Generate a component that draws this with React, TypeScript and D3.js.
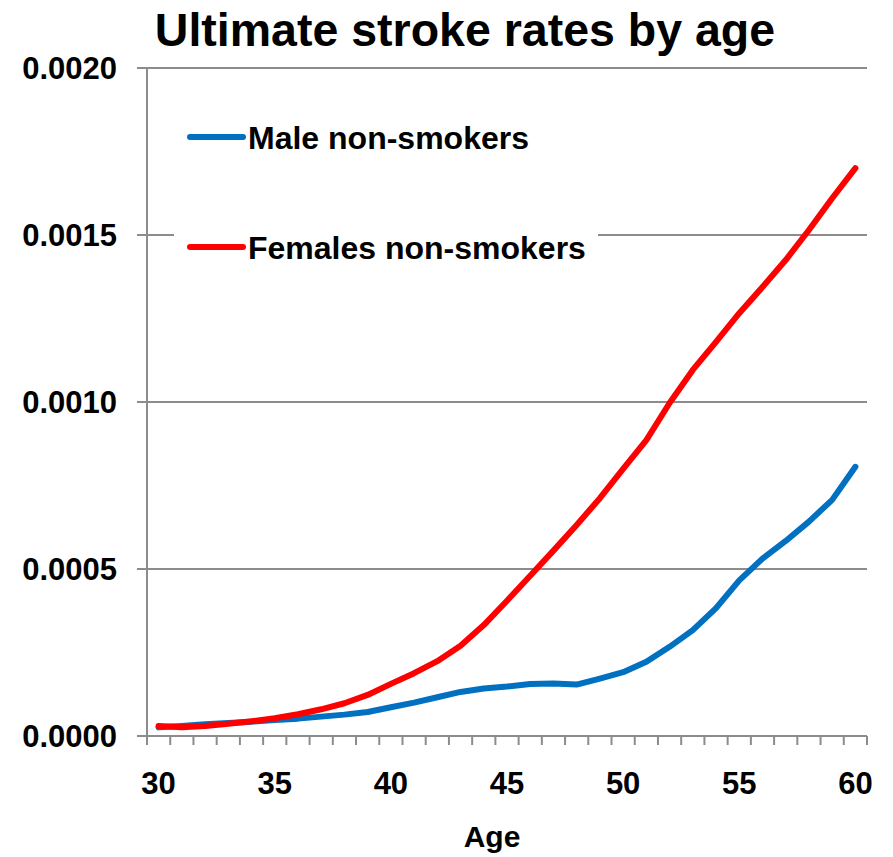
import React, { useEffect, useRef } from "react";
import * as d3 from "d3";

const ages = [30, 31, 32, 33, 34, 35, 36, 37, 38, 39, 40, 41, 42, 43, 44, 45, 46, 47, 48, 49, 50, 51, 52, 53, 54, 55, 56, 57, 58, 59, 60];
const maleNonSmokers = [0.000026, 0.00003, 0.000035, 0.000039, 0.000043, 0.000048, 0.000052, 0.000058, 0.000064, 0.000072, 0.000086, 0.0001, 0.000116, 0.000132, 0.000142, 0.000148, 0.000156, 0.000157, 0.000154, 0.000172, 0.000191, 0.000222, 0.000267, 0.000317, 0.000383, 0.000466, 0.000531, 0.000584, 0.000642, 0.000707, 0.000806];
const femaleNonSmokers = [0.00003, 0.000026, 0.00003, 0.000037, 0.000044, 0.000053, 0.000065, 0.00008, 0.000098, 0.000123, 0.000156, 0.000188, 0.000224, 0.00027, 0.000332, 0.000405, 0.00048, 0.000555, 0.000632, 0.000712, 0.0008, 0.000886, 0.000997, 0.001096, 0.00118, 0.001266, 0.001344, 0.001425, 0.001515, 0.00161, 0.0017];
const yTicks = [0, 0.0005, 0.001, 0.0015, 0.002];
const xLabelAges = [30, 35, 40, 45, 50, 55, 60];
const seriesNames = ["Male non-smokers", "Females non-smokers"];
const seriesColors = ["#0070C0", "#FF0000"];
const titleText = "Ultimate stroke rates by age";
const xTitle = "Age";

const W = 893;
const H = 857;
const FONT = "'Liberation Sans', Arial, Helvetica, sans-serif";

export default function App() {
  const ref = useRef<SVGSVGElement>(null);

  useEffect(() => {
    const svg = d3.select(ref.current);
    svg.selectAll("*").remove();

    const left = 147, right = 867, top = 68, bottom = 736;
    const x = d3.scaleBand<number>().domain(ages).range([left, right]).padding(0);
    const bw = x.bandwidth();
    const cx = (a: number) => (x(a) as number) + bw / 2;
    const y = d3.scaleLinear().domain([0, 0.002]).range([bottom, top]);
    const gridColor = "#8c8c8c";

    // Title
    svg.append("text").attr("x", 465).attr("y", 46).attr("text-anchor", "middle")
      .attr("font-family", FONT).attr("font-weight", "bold").attr("font-size", 46.5).attr("fill", "#000")
      .text(titleText);

    // Gridlines and y ticks
    const gy = svg.append("g");
    yTicks.forEach((t) => {
      gy.append("line").attr("x1", left - 10).attr("x2", right).attr("y1", y(t)).attr("y2", y(t))
        .attr("stroke", gridColor).attr("stroke-width", 2);
      gy.append("text").attr("x", 117).attr("y", y(t) + 11).attr("text-anchor", "end")
        .attr("font-family", FONT).attr("font-weight", "bold").attr("font-size", 31).attr("fill", "#000")
        .text(d3.format(".4f")(t));
    });

    // y axis line
    svg.append("line").attr("x1", left).attr("x2", left).attr("y1", top).attr("y2", bottom)
      .attr("stroke", gridColor).attr("stroke-width", 2);

    // x ticks at category boundaries
    const gx = svg.append("g");
    for (let i = 0; i <= ages.length; i++) {
      const xx = left + i * bw;
      gx.append("line").attr("x1", xx).attr("x2", xx).attr("y1", bottom).attr("y2", bottom + 9)
        .attr("stroke", gridColor).attr("stroke-width", 2);
    }
    xLabelAges.forEach((a) => {
      gx.append("text").attr("x", cx(a)).attr("y", 794).attr("text-anchor", "middle")
        .attr("font-family", FONT).attr("font-weight", "bold").attr("font-size", 31).attr("fill", "#000")
        .text(String(a));
    });
    svg.append("text").attr("x", 492).attr("y", 847).attr("text-anchor", "middle")
      .attr("font-family", FONT).attr("font-weight", "bold").attr("font-size", 30).attr("fill", "#000")
      .text(xTitle);

    // Legend box (white background)
    const lg = svg.append("g");
    lg.append("rect").attr("x", 174).attr("y", 100).attr("width", 424).attr("height", 180).attr("fill", "#fff");
    const legendY = [137, 247];
    [0, 1].forEach((i) => {
      lg.append("line").attr("x1", 190).attr("x2", 243).attr("y1", legendY[i]).attr("y2", legendY[i])
        .attr("stroke", seriesColors[i]).attr("stroke-width", 6).attr("stroke-linecap", "round");
      lg.append("text").attr("x", 248).attr("y", legendY[i] + 12)
        .attr("font-family", FONT).attr("font-weight", "bold").attr("font-size", 32).attr("fill", "#000")
        .text(seriesNames[i]);
    });

    // Lines
    const line = d3.line<number>().x((_, i) => cx(ages[i])).y((d) => y(d));
    [maleNonSmokers, femaleNonSmokers].forEach((s, i) => {
      svg.append("path").attr("d", line(s) as string).attr("fill", "none")
        .attr("stroke", seriesColors[i]).attr("stroke-width", 6)
        .attr("stroke-linecap", "round").attr("stroke-linejoin", "round");
    });
  }, []);

  return (
    <svg ref={ref} width={W} height={H} style={{ position: "absolute", left: 0, top: 0, background: "#fff" }} />
  );
}
